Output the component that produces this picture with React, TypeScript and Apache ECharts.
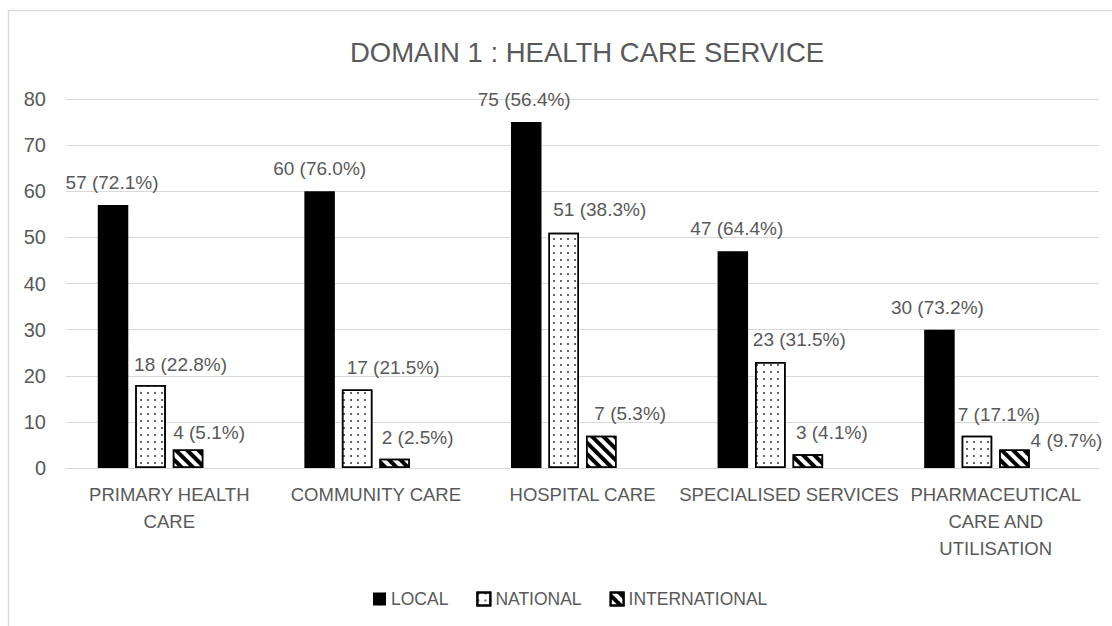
import React, { useEffect, useRef } from "react";
import * as echarts from "echarts";

const TITLE = "DOMAIN 1 : HEALTH CARE SERVICE";
const CATEGORIES = [
  "PRIMARY HEALTH\nCARE",
  "COMMUNITY CARE",
  "HOSPITAL CARE",
  "SPECIALISED SERVICES",
  "PHARMACEUTICAL\nCARE AND\nUTILISATION",
];
const SERIES_NAMES = ["LOCAL", "NATIONAL", "INTERNATIONAL"];
const LOCAL = [57, 60, 75, 47, 30];
const NATIONAL = [18, 17, 51, 23, 7];
const INTERNATIONAL = [4, 2, 7, 3, 4];
const LOCAL_PCT = ["72.1", "76.0", "56.4", "64.4", "73.2"];
const NATIONAL_PCT = ["22.8", "21.5", "38.3", "31.5", "17.1"];
const INTERNATIONAL_PCT = ["5.1", "2.5", "5.3", "4.1", "9.7"];
const Y_TICKS = [0, 10, 20, 30, 40, 50, 60, 70, 80];

// label nudges (layout only): [dx, dy] per series per category
const LABEL_NUDGE = [
  [[-1, 0], [0, 0], [-2, 0], [4, 0], [-2, 0]],
  [[30, 2], [36, 0], [36, -1], [29, 0], [22, 1]],
  [[21, 5], [23, 1], [29, 0], [24, 1], [52, 13]],
];

const FONT = "'Liberation Sans', Arial, sans-serif";
const TXT = "#595959";

export default function App() {
  const ref = useRef<HTMLDivElement>(null);
  useEffect(() => {
    if (!ref.current) return;
    const chart = echarts.init(ref.current, null, { renderer: "svg" });
    const values = [LOCAL, NATIONAL, INTERNATIONAL];
    const pcts = [LOCAL_PCT, NATIONAL_PCT, INTERNATIONAL_PCT];
    const styles: any[] = [
      { color: "#000", decal: "none" },
      {
        color: "#fff",
        borderColor: "#000",
        borderWidth: 1.5,
        decal: {
          symbol: "rect",
          symbolSize: 0.8,
          color: "#000",
          backgroundColor: "#fff",
          dashArrayX: [2, 5],
          dashArrayY: [2, 5],
        },
      },
      {
        color: "#fff",
        borderColor: "#000",
        borderWidth: 1.5,
        decal: {
          symbol: "rect",
          symbolSize: 1,
          color: "#000",
          backgroundColor: "#fff",
          dashArrayX: [1, 0],
          dashArrayY: [4, 4],
          rotation: Math.PI / 4,
        },
      },
    ];
    const series: any[] = SERIES_NAMES.map((name, s) => ({
      name,
      type: "bar",
      barWidth: 30.5,
      barGap: "23%",
      itemStyle: styles[s],
      label: {
        show: true,
        position: "top",
        distance: 13,
        color: TXT,
        fontSize: 19,
        fontFamily: FONT,
        formatter: (p: any) => `${values[s][p.dataIndex]} (${pcts[s][p.dataIndex]}%)`,
      },
      data: values[s].map((v, i) => ({
        value: v,
        label: { offset: LABEL_NUDGE[s][i] },
      })),
    }));
    series.push({
      name: "_spacer",
      type: "bar",
      barWidth: 30.5,
      barGap: "23%",
      silent: true,
      itemStyle: { color: "transparent", decal: "none" },
      data: CATEGORIES.map(() => null),
    });

    chart.setOption({
      animation: false,
      backgroundColor: "#fff",
      aria: { enabled: true, decal: { show: true } },
      title: {
        text: TITLE,
        left: 582,
        top: 33,
        textAlign: "center",
        textStyle: { color: TXT, fontSize: 27.5, fontWeight: "normal", fontFamily: FONT },
      },
      graphic: [
        {
          type: "rect",
          shape: { x: 8.5, y: 10.5, width: 1200, height: 700 },
          style: { fill: "none", stroke: "#d9d9d9", lineWidth: 1.5 },
          silent: true,
        },
      ],
      legend: {
        data: SERIES_NAMES,
        left: 373,
        top: 590,
        padding: 0,
        icon: "rect",
        itemWidth: 13,
        itemHeight: 13,
        itemGap: 28,
        textStyle: { color: TXT, fontSize: 17.5, fontFamily: FONT },
      },
      grid: { left: 66, right: 13, top: 99, bottom: 158, containLabel: false },
      xAxis: {
        type: "category",
        data: CATEGORIES,
        axisTick: { show: false },
        axisLine: { lineStyle: { color: "#d9d9d9", width: 1 } },
        axisLabel: {
          interval: 0,
          color: TXT,
          fontSize: 18.5,
          lineHeight: 27,
          margin: 13,
          fontFamily: FONT,
        },
      },
      yAxis: {
        type: "value",
        min: Y_TICKS[0],
        max: Y_TICKS[Y_TICKS.length - 1],
        interval: Y_TICKS[1] - Y_TICKS[0],
        axisLine: { show: false },
        axisTick: { show: false },
        splitLine: { lineStyle: { color: "#d9d9d9", width: 1 } },
        axisLabel: { color: TXT, fontSize: 20, margin: 20, fontFamily: FONT },
      },
      series,
    });
    return () => chart.dispose();
  }, []);
  return (
    <div
      ref={ref}
      style={{ position: "absolute", left: 0, top: 0, width: 1112, height: 626 }}
    />
  );
}
